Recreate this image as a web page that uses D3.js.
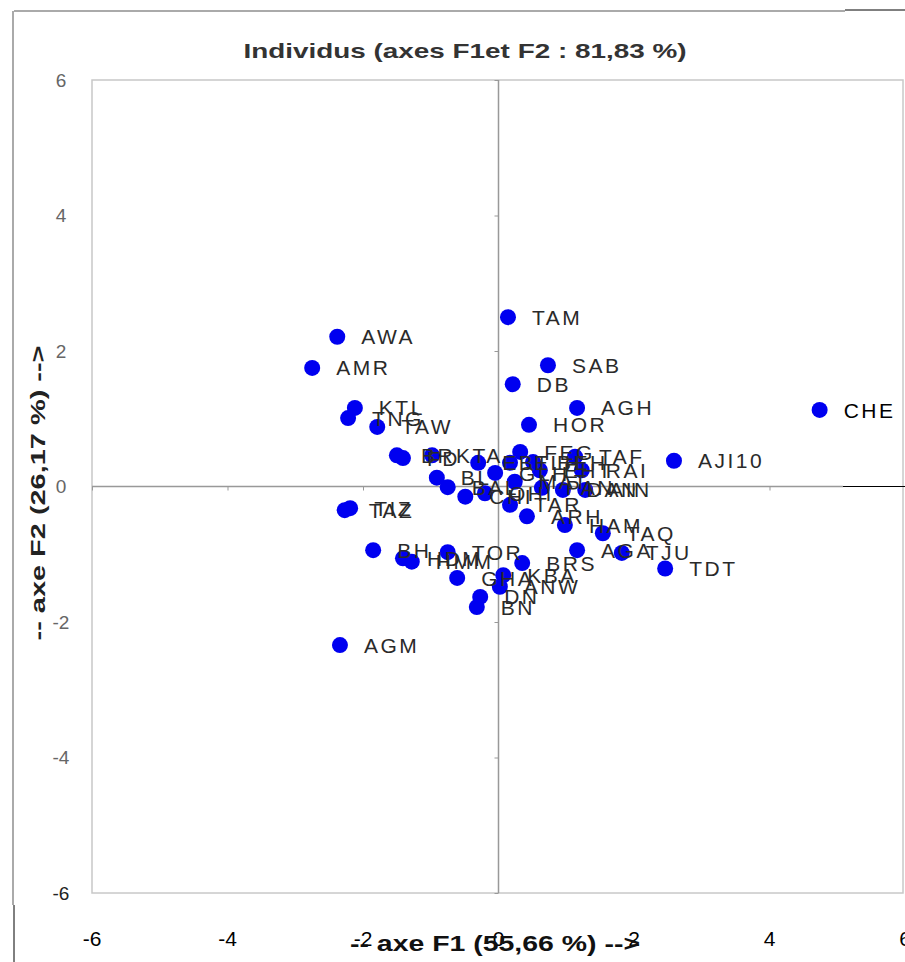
<!DOCTYPE html>
<html>
<head>
<meta charset="utf-8">
<script src="https://cdn.jsdelivr.net/npm/d3@7"></script>
<style>
  body { margin: 0; background: #fff; }
</style>
</head>
<body>
<div class="chart"></div>
<script>
// individuals on the first factorial plane
const names = ["TAM","AWA","AMR","SAB","DB","AGH","CHE","KTL","TNG","TAW","HOR","AJI10",
  "BR","FD","KTA","BL","BAL","CHI","EBT","OHI","GLH","ELH","MAT","FEG","BEH","EHT","PAN","DAN",
  "TAF","RAI","AIN","TAR","ARH","HAM","TAQ","AGA","TJU","TDT","TAZ","TIZ","BH","HDM","HMM",
  "TOR","GHA","KBA","ANW","BRS","DN","BN","AGM"]
const f1 = [0.14,-2.38,-2.75,0.73,0.21,1.16,4.74,-2.12,-2.22,-1.79,0.45,2.59,
  -1.50,-1.41,-0.98,-0.91,-0.75,-0.49,-0.30,-0.20,-0.05,0.17,0.24,0.32,0.51,0.61,0.64,0.95,
  1.13,1.23,1.28,0.17,0.42,0.98,1.54,1.16,1.82,2.46,-2.27,-2.19,-1.85,-1.41,-1.28,
  -0.75,-0.61,0.07,0.02,0.35,-0.27,-0.32,-2.34]
const f2 = [2.50,2.21,1.75,1.79,1.51,1.16,1.13,1.16,1.01,0.88,0.91,0.38,
  0.46,0.42,0.46,0.13,-0.01,-0.15,0.35,-0.10,0.20,0.35,0.07,0.51,0.36,0.24,-0.02,-0.05,
  0.44,0.24,-0.05,-0.27,-0.44,-0.57,-0.69,-0.94,-0.98,-1.21,-0.35,-0.32,-0.94,-1.06,-1.11,
  -0.97,-1.35,-1.31,-1.48,-1.13,-1.63,-1.78,-2.34]
const tickVals = [-6,-4,-2,0,2,4,6]

const title = "Individus (axes F1et F2 : 81,83 %)"
const xTitle = "-- axe F1 (55,66 %) -->"
const yTitle = "-- axe F2 (26,17 %) -->"

const data = names.map((n, i) => ({name: n, x: f1[i], y: f2[i]}))

const w = 905
const h = 962

const svg = d3.select(".chart")
  .append("svg")
  .attr("width", w)
  .attr("height", h)
  .style("display", "block")
  .style("font-family", "'Liberation Sans', Arial, sans-serif")

// scales
const xScale = d3.scaleLinear().domain([-6, 6]).range([92, 905])
const yScale = d3.scaleLinear().domain([-6, 6]).range([893, 80])

// outer frame (screenshot border)
svg.append("line").attr("x1", 14).attr("x2", 845).attr("y1", 11).attr("y2", 11)
  .attr("stroke", "#aaa").attr("stroke-width", 2)
svg.append("line").attr("x1", 845).attr("x2", 905).attr("y1", 10).attr("y2", 10)
  .attr("stroke", "#000").attr("stroke-width", 1)
svg.append("line").attr("x1", 13).attr("x2", 13).attr("y1", 11).attr("y2", 905)
  .attr("stroke", "#aaa").attr("stroke-width", 2)
svg.append("line").attr("x1", 14).attr("x2", 14).attr("y1", 905).attr("y2", 962)
  .attr("stroke", "#000").attr("stroke-width", 1)

// plot area
svg.append("rect")
  .attr("x", xScale(-6)).attr("y", yScale(6))
  .attr("width", 903 - xScale(-6)).attr("height", yScale(-6) - yScale(6))
  .attr("fill", "none").attr("stroke", "#c8c8c8").attr("stroke-width", 1.5)

// central axes
svg.append("line")
  .attr("x1", xScale(-6)).attr("x2", 843)
  .attr("y1", yScale(0)).attr("y2", yScale(0))
  .attr("stroke", "#999").attr("stroke-width", 1.5)
svg.append("line")
  .attr("x1", 843).attr("x2", w)
  .attr("y1", yScale(0)).attr("y2", yScale(0))
  .attr("stroke", "#000").attr("stroke-width", 1)
svg.append("line")
  .attr("x1", xScale(0)).attr("x2", xScale(0))
  .attr("y1", yScale(6)).attr("y2", yScale(-6))
  .attr("stroke", "#999").attr("stroke-width", 1.5)

// small ticks on the central axes
const xAxis = d3.axisBottom(xScale).tickValues(tickVals).tickSize(4).tickFormat("")
svg.append("g")
  .attr("transform", "translate(0," + yScale(0) + ")")
  .call(xAxis)
  .call(g => g.select(".domain").remove())
  .call(g => g.selectAll("line").attr("stroke", "#999"))
const yAxis = d3.axisLeft(yScale).tickValues(tickVals).tickSize(4).tickFormat("")
svg.append("g")
  .attr("transform", "translate(" + xScale(0) + ",0)")
  .call(yAxis)
  .call(g => g.select(".domain").remove())
  .call(g => g.selectAll("line").attr("stroke", "#999"))

// x tick labels (below the plot)
svg.append("g").selectAll("text")
  .data(tickVals)
  .enter()
  .append("text")
  .attr("x", d => xScale(d))
  .attr("y", 946)
  .attr("text-anchor", "middle")
  .attr("font-size", 21)
  .attr("fill", "#000")
  .text(d => d)

// y tick labels
svg.append("g").selectAll("text")
  .data(tickVals)
  .enter()
  .append("text")
  .attr("x", 61)
  .attr("y", d => yScale(d))
  .attr("dy", "0.35em")
  .attr("text-anchor", "middle")
  .attr("font-size", 19)
  .attr("fill", d => d === -6 ? "#222" : "#666")
  .text(d => d)

// titles
svg.append("text")
  .attr("x", 465).attr("y", 58)
  .attr("text-anchor", "middle")
  .attr("font-size", 21).attr("font-weight", "bold").attr("fill", "#333")
  .attr("textLength", 443).attr("lengthAdjust", "spacingAndGlyphs")
  .text(title)

svg.append("text")
  .attr("x", 495).attr("y", 951)
  .attr("text-anchor", "middle")
  .attr("font-size", 22).attr("font-weight", "bold").attr("fill", "#111")
  .attr("textLength", 290).attr("lengthAdjust", "spacingAndGlyphs")
  .text(xTitle)

svg.append("text")
  .attr("transform", "translate(45,493) rotate(-90)")
  .attr("text-anchor", "middle")
  .attr("font-size", 21).attr("font-weight", "bold").attr("fill", "#222")
  .attr("textLength", 295).attr("lengthAdjust", "spacingAndGlyphs")
  .text(yTitle)

// points
svg.selectAll("circle.dot")
  .data(data)
  .enter()
  .append("circle")
  .attr("class", "dot")
  .attr("cx", d => xScale(d.x))
  .attr("cy", d => yScale(d.y))
  .attr("r", 8)
  .attr("fill", "#0000f0")

// labels
svg.selectAll("text.lbl")
  .data(data)
  .enter()
  .append("text")
  .attr("class", "lbl")
  .attr("x", d => xScale(d.x) + 24)
  .attr("y", d => yScale(d.y))
  .attr("dy", "0.36em")
  .attr("font-size", 21)
  .attr("letter-spacing", 2.5)
  .attr("fill", d => d.name === "CHE" ? "#000" : "#2a2a2a")
  .text(d => d.name)
</script>
</body>
</html>
